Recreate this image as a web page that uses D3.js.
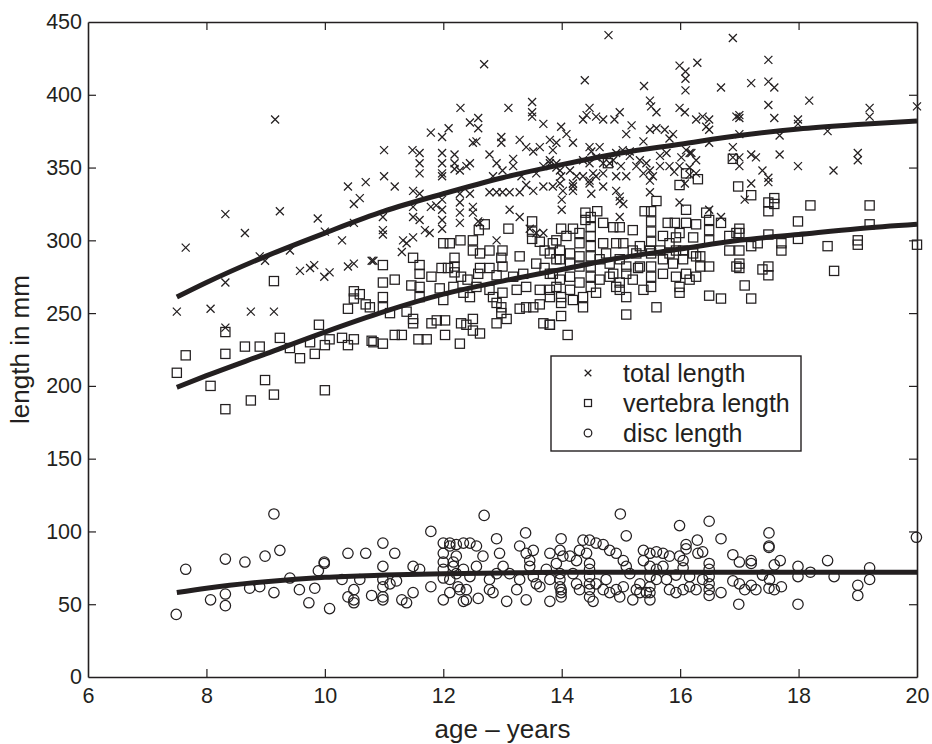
<!DOCTYPE html>
<html lang="en">
<head>
<meta charset="utf-8">
<title>length vs age</title>
<script src="https://cdn.jsdelivr.net/npm/d3@7"></script>
<style>
  body { margin: 0; background: #fff; }
  svg { display: block; font-family: "Liberation Sans", Arial, Helvetica, sans-serif; }
  .mark { fill: none; stroke: #231f20; stroke-width: 1.25; }
  .fit { fill: none; stroke: #231f20; stroke-width: 5; }
</style>
</head>
<body>
<script>
// scatter data, [age in years, length in mm]
const totalLength = [
  [7.65,295],[8.32,318],[8.65,305],[9.16,383],[9.24,320],[9.88,315],[8.9,289],[8.99,286],[9.41,293],[8.32,271],
  [10,306],[10.29,300],[10.39,337],[10.69,340],[10.59,329],[10.49,325],[10.49,312],[9.58,279],[9.75,281],[9.82,283],
  [9.99,275],[10.08,278],[10.39,282],[10.49,284],[10.79,286],[7.5,251],[8.07,253],[8.75,251],[9.14,251],[8.32,240],
  [12.69,421],[12.29,391],[13.1,391],[13.5,395],[13.5,388],[13.5,385],[13.69,380],[12.45,381],[12.59,384],[12.59,377],
  [11.79,374],[12.09,377],[11.98,371],[11.0,362],[11.0,344],[11.18,337],[11.48,362],[11.6,360],[11.6,353],[11.6,346],
  [11.49,334],[11.6,332],[11.98,360],[11.98,353],[11.98,346],[11.98,344],[12.19,359],[12.19,353],[12.19,349],[12.28,348],
  [12.39,351],[12.45,353],[12.5,367],[12.56,368],[12.78,359],[12.9,353],[12.84,344],[12.98,371],[12.98,367],[13.18,356],
  [13.29,369],[13.4,364],[13.52,361],[13.63,364],[13.8,369],[12.78,333],[12.9,333],[13.0,333],[13.12,333],[13.29,333],
  [13.4,338],[13.52,334],[13.69,337],[12.28,332],[12.28,326],[12.28,319],[12.28,312],[12.45,332],[12.5,323],[12.5,319],
  [12.62,312],[11.98,328],[11.98,321],[11.98,314],[11.98,308],[11.79,323],[11.88,324],[11.49,323],[11.49,316],[11.6,314],
  [11.69,307],[11.77,305],[10.98,316],[10.98,307],[10.98,304],[11.32,300],[11.38,298],[11.49,302],[11.3,292],[10.82,286],
  [13.12,321],[13.29,316],[13.46,308],[13.57,305],[13.69,305],[12.9,300],[12.59,313],
  [13.8,355],[13.91,350],[13.69,351],[13.57,346],[13.32,344],[13.18,351],[13.0,348],
  [14.79,441],[14.39,410],[15.99,420],[16.29,422],[16.09,416],[16.09,411],[16.09,403],[15.39,406],[16.69,405],[15.49,396],
  [15.51,392],[15.6,388],[15.99,391],[16.08,388],[14.36,383],[14.47,391],[14.42,386],[14.58,385],[14.7,383],[14.89,383],
  [14.98,388],[15.18,379],[15.09,373],[13.99,378],[14.08,373],[14.19,367],[13.91,367],[13.85,362],[14.47,364],[14.5,361],
  [14.58,357],[14.64,364],[15.49,376],[15.6,377],[15.74,376],[15.88,373],[15.82,370],[16.27,383],[16.38,385],[16.49,383],
  [16.49,376],[16.44,378],[16.95,385],[15.38,368],[15.03,362],[15.15,361],[16.1,362],[16.19,360],[16.49,367],[16.89,364],
  [16.89,357],[13.91,353],[13.97,348],[14.14,348],[14.25,344],[14.47,353],[14.53,346],[14.47,341],[14.7,346],[14.81,353],
  [14.92,344],[15.09,344],[15.26,351],[15.43,353],[15.49,348],[15.54,344],[15.66,351],[15.82,351],[15.9,347],[15.99,351],
  [16.16,350],[16.27,355],[13.97,339],[14.02,334],[14.0,328],[14.0,321],[14.19,339],[14.19,334],[14.47,339],[14.5,332],
  [14.7,337],[14.92,334],[14.98,330],[15.04,325],[14.98,327],[15.49,333],[15.49,341],[15.99,326],[16.08,339],[16.16,345],
  [16.27,346],[16.49,321],[16.69,316],[14.98,316],
  [13.8,353],[13.85,337],[13.99,344],[14.19,337],[14.36,355],[14.36,344],[14.58,344],[14.7,353],[14.87,355],[14.92,360],
  [15.0,351],[15.15,358],[15.32,355],[15.38,346],[15.66,358],[15.77,360],[16.02,357],[16.16,360],
  [16.89,439],[17.49,424],[17.2,408],[17.49,409],[17.59,405],[17.49,393],[17.59,384],[18.18,396],[17.0,386],[17.0,384],
  [17.99,383],[17.99,380],[19.2,391],[19.2,385],[20.0,392],[17.0,373],[17.68,372],[18.49,375],[17.0,357],[17.0,351],
  [17.2,359],[17.28,357],[17.68,359],[17.99,351],[19.0,360],[19.0,355],[18.59,348],[17.39,348],[17.49,343],[17.49,340],
  [17.2,339],[17.09,328]
];

const vertebraLength = [
  [9.14,272],[10.49,265],[10.59,263],[10.49,260],[10.69,256],[10.39,253],[9.9,242],[8.32,237],[9.24,233],[7.65,221],
  [8.32,222],[8.65,227],[8.9,227],[9.41,226],[9.58,219],[9.75,230],[9.83,222],[10.0,228],[10.08,232],[10.29,233],
  [10.39,228],[10.49,232],[10.79,231],[7.5,209],[8.07,200],[8.99,204],[9.14,194],[8.75,190],[8.32,184],[10.0,197],
  [12.7,311],[12.6,307],[13.1,308],[13.5,313],[13.5,306],[13.5,301],[12.0,298],[12.11,298],[12.29,300],[12.5,300],
  [12.5,293],[12.62,291],[12.78,293],[13.0,293],[12.98,288],[13.29,289],[13.63,299],[13.71,293],[13.85,298],[13.8,291],
  [13.91,287],[11.49,288],[11.6,283],[11.6,277],[11.8,275],[12.19,288],[12.19,282],[10.98,283],[11.18,273],[10.98,271],
  [11.97,281],[12.08,281],[12.19,278],[12.3,275],[12.41,273],[12.59,277],[12.62,281],[12.78,281],[12.9,276],[13.0,282],
  [13.18,275],[13.35,277],[13.57,284],[13.71,281],[13.85,277],[11.46,269],[11.6,268],[11.94,267],[12.17,268],[12.34,264],
  [12.45,261],[12.56,268],[12.78,266],[12.84,261],[13.0,264],[13.24,266],[13.4,268],[13.63,266],[13.8,261],[10.98,261],
  [10.98,254],[10.76,254],[11.1,250],[11.38,251],[11.49,246],[11.49,243],[11.8,243],[11.89,245],[12.03,245],[12.03,235],
  [12.3,243],[12.39,242],[12.5,246],[12.5,238],[12.62,236],[12.9,243],[13.07,246],[13.29,253],[13.4,254],[13.52,254],
  [13.63,256],[13.69,243],[13.8,242],[11.18,235],[11.3,235],[10.98,229],[10.82,230],[11.58,232],[11.72,232],[12.28,229],
  [12.9,257],[12.98,254],[12.98,250],[11.6,261],[12.0,259],
  [14.6,320],[14.4,319],[14.4,314],[14.49,316],[14.49,309],[14.49,303],[14.49,296],[14.49,289],[14.49,282],[14.49,275],
  [14.49,268],[14.7,312],[14.87,309],[14.98,309],[15.2,307],[13.99,308],[14.19,308],[13.91,300],[14.08,303],[14.3,305],
  [14.3,298],[15.4,320],[15.51,320],[15.51,313],[15.51,306],[15.51,299],[15.51,291],[15.51,282],[15.51,275],[15.51,268],
  [15.79,312],[15.91,312],[15.99,305],[16.1,312],[16.1,321],[16.27,311],[16.44,319],[16.49,314],[16.49,307],[16.49,300],
  [16.69,312],[16.95,305],[14.92,298],[15.04,298],[15.2,293],[15.32,296],[15.49,293],[15.66,293],[15.82,298],[15.93,293],
  [16.05,293],[16.22,291],[16.34,289],[13.97,293],[14.14,291],[14.3,289],[14.64,287],[14.81,284],[14.98,287],[15.09,282],
  [15.29,281],[15.71,287],[15.88,284],[16.05,287],[16.1,277],[16.27,289],[16.49,282],[13.8,277],[13.97,273],[14.14,275],
  [14.3,271],[14.64,273],[14.87,277],[14.98,271],[15.09,277],[15.2,273],[15.71,277],[15.93,275],[16.16,273],[16.95,282],
  [13.8,266],[13.99,261],[13.99,257],[14.19,259],[14.36,261],[14.58,264],[14.98,266],[15.09,261],[15.38,266],[15.99,268],
  [15.99,264],[16.49,262],[16.69,260],[14.36,254],[13.99,248],[15.09,249],[15.6,254],[13.8,242],[14.1,235],[14.78,353],
  [15.99,338],[16.1,346],[16.3,342],[16.89,356],[16.98,337],[15.6,327],
  [13.97,287],[14.14,284],[14.3,282],[13.91,268],[14.14,266],[14.7,298],[14.75,291],[14.81,275],[14.92,268],[15.26,291],
  [15.32,282],[15.71,303],[15.82,291],[15.93,302],[16.22,302],[16.27,275],[16.34,282],
  [17.2,331],[17.49,326],[17.49,320],[17.59,329],[17.59,325],[18.2,324],[19.2,324],[17.99,313],[19.2,311],[17.0,308],
  [17.0,305],[16.83,303],[17.49,304],[17.99,301],[17.71,298],[17.71,293],[17.2,296],[17.31,298],[17.0,293],[16.83,293],
  [18.49,296],[19.0,300],[19.0,297],[20.0,297],[17.0,284],[17.0,281],[17.39,280],[17.49,282],[17.49,276],[18.6,279],
  [17.09,269],[17.2,260]
];

const discLength = [
  [7.49,43],[7.65,74],[8.07,53],[8.32,57],[8.32,49],[8.32,81],[8.65,79],[8.73,61],[8.9,62],[8.99,83],
  [9.14,58],[9.41,68],[9.57,60],[9.73,51],[9.83,61],[9.89,73],[9.14,112],[9.24,87],[9.99,79],[9.99,78],
  [10.08,47],[10.39,85],[10.69,85],[10.98,92],[11.18,85],[11.79,100],[10.29,67],[10.59,67],[10.39,55],[10.49,60],
  [10.49,53],[10.49,51],[10.79,56],[10.98,76],[10.98,67],[10.98,62],[10.98,55],[10.98,53],[11.1,64],[11.21,66],
  [11.3,53],[11.38,51],[11.49,58],[11.49,76],[11.6,74],[11.79,62],[12.0,92],[12.0,85],[12.0,79],[12.0,74],
  [12.0,68],[12.0,53],[12.11,90],[12.17,79],[12.11,58],[12.25,62],[12.22,91],
  [12.69,111],[14.99,112],[15.09,97],[13.39,99],[12.9,95],[13.99,95],[15.99,104],[16.49,107],[17.5,99],[17.5,90],
  [17.5,89],[19.99,96],[16.69,95],[16.29,94],[18.49,80],[17.69,80],[17.99,76],[17.99,69],[18.2,72],[18.6,69],
  [19.2,75],[19.2,67],[19.0,63],[19.0,56],[17.99,50],[16.99,50],[16.89,84],[17.0,79],[17.2,80],[17.2,78],
  [16.89,66],[17.0,64],[17.09,60],[17.2,63],[17.28,60],[17.39,70],[17.5,61],[17.59,60],[17.71,62],[17.59,77],
  [17.51,67],[16.69,58],[16.49,56],[16.49,60],[16.49,64],[16.49,69],[16.49,74],[16.49,78],[16.1,91],[16.1,88],
  [16.3,85],[16.38,86],[16.05,80],[16.05,75],[15.82,60],[15.93,58],[16.05,60],[16.16,62],[16.27,60],[15.77,67],
  [15.93,70],[16.16,69],[16.38,67],[15.38,87],[15.49,85],[15.6,86],[15.71,85],[15.82,83],[15.99,83],[15.38,80],
  [15.49,76],[15.6,74],[15.71,76],[15.49,69],[15.6,67],[15.49,62],[15.49,58],[15.49,53],[15.32,64],[15.26,60],
  [15.43,58],[14.47,94],[14.58,92],[14.7,91],[14.81,87],[14.92,85],[15.04,80],[15.09,76],[15.15,71],[14.42,85],
  [14.47,78],[14.47,74],[14.47,69],[14.47,64],[14.47,60],[14.47,55],[14.53,52],[14.7,60],[14.81,58],[14.92,60],
  [14.98,55],[15.04,62],[15.2,53],[15.32,58],[14.58,64],[14.75,67],[13.97,87],[14.02,83],[13.91,78],[13.97,71],
  [13.97,67],[13.97,62],[13.99,60],[13.99,58],[13.99,55],[14.14,83],[14.25,80],[14.3,87],[14.36,94],[13.8,85],
  [13.74,74],[13.8,67],[13.8,52],[14.19,71],[14.25,64],[14.3,60],[13.29,90],[13.4,85],[13.52,87],[13.46,80],
  [13.46,76],[13.52,69],[13.57,64],[13.63,62],[13.4,53],[13.24,60],[13.29,67],[13.12,71],[13.01,76],[12.95,85],
  [12.9,71],[12.78,67],[12.78,60],[12.84,58],[13.07,52],[12.67,83],[12.56,76],[12.45,69],[12.39,60],[12.34,52],
  [12.59,54],[12.11,92],[12.34,92],[12.45,92],[12.56,90],[12.22,83],[12.17,76],[12.34,74],[12.11,67],[12.28,60],
  [12.39,53],[12.22,71]
];

// fitted growth curves at these ages
const fitAges     = [7.5, 8, 9, 10, 11, 12, 13, 14, 15, 16, 17, 18, 19, 20];
const totalFit    = [261, 271, 289, 305, 320, 332, 343, 352, 360, 366, 372, 376.5, 379.5, 382];
const vertebraFit = [199, 207, 222, 237, 251, 263, 272, 280, 288, 294, 300, 304, 308, 311];
const discFit     = [58, 61, 65.5, 68.5, 70, 71, 71.5, 72, 72, 72, 72, 72, 72, 72];

const xTicks = [6, 8, 10, 12, 14, 16, 18, 20];
const yTicks = [0, 50, 100, 150, 200, 250, 300, 350, 400, 450];
const legendLabels = ["total length", "vertebra length", "disc length"];

let w = 932, h = 744;
let margin = {top: 22, right: 15, bottom: 67, left: 88};
let iw = w - margin.left - margin.right;
let ih = h - margin.top - margin.bottom;
let ink = "#231f20";

let svg = d3.select("body").append("svg")
  .attr("width", w)
  .attr("height", h);

let g = svg.append("g")
  .attr("transform", "translate(" + margin.left + "," + margin.top + ")");

let x = d3.scaleLinear().domain([6, 20]).range([0, iw]);
let y = d3.scaleLinear().domain([0, 450]).range([ih, 0]);

// marker shapes
function cross(sel, s) {
  sel.append("path").attr("class", "mark")
    .attr("d", "M" + (-s) + "," + (-s) + "L" + s + "," + s + "M" + (-s) + "," + s + "L" + s + "," + (-s));
}
function square(sel, s) {
  sel.append("rect").attr("class", "mark")
    .attr("x", -s).attr("y", -s).attr("width", 2 * s).attr("height", 2 * s);
}
function ring(sel, s) {
  sel.append("circle").attr("class", "mark").attr("r", s);
}

// scatter
g.selectAll("g.tot").data(totalLength).enter().append("g")
  .attr("class", "tot")
  .attr("transform", d => "translate(" + x(d[0]) + "," + y(d[1]) + ")")
  .each(function() { cross(d3.select(this), 4); });

g.selectAll("g.vert").data(vertebraLength).enter().append("g")
  .attr("class", "vert")
  .attr("transform", d => "translate(" + x(d[0]) + "," + y(d[1]) + ")")
  .each(function() { square(d3.select(this), 4.6); });

g.selectAll("g.disc").data(discLength).enter().append("g")
  .attr("class", "disc")
  .attr("transform", d => "translate(" + x(d[0]) + "," + y(d[1]) + ")")
  .each(function() { ring(d3.select(this), 5.2); });

// fitted curves
let line = d3.line()
  .x((d, i) => x(fitAges[i]))
  .y(d => y(d))
  .curve(d3.curveMonotoneX);

[totalFit, vertebraFit, discFit].forEach(function(s) {
  g.append("path").attr("class", "fit").attr("d", line(s));
});

// axes, matlab style box with inward ticks
let tick = 8;
let xAxisB = d3.axisBottom(x).tickValues(xTicks).tickSizeInner(-tick).tickSizeOuter(0).tickPadding(11);
let xAxisT = d3.axisTop(x).tickValues(xTicks).tickSizeInner(-tick).tickSizeOuter(0).tickFormat("");
let yAxisL = d3.axisLeft(y).tickValues(yTicks).tickSizeInner(-tick).tickSizeOuter(0).tickPadding(6);
let yAxisR = d3.axisRight(y).tickValues(yTicks).tickSizeInner(-tick).tickSizeOuter(0).tickFormat("");

g.append("g").attr("transform", "translate(0," + ih + ")").call(xAxisB);
g.append("g").call(xAxisT);
g.append("g").call(yAxisL);
g.append("g").attr("transform", "translate(" + iw + ",0)").call(yAxisR);

g.selectAll(".domain").attr("stroke", ink).attr("stroke-width", 1.6);
g.selectAll(".tick line").attr("stroke", ink).attr("stroke-width", 1.2);
g.selectAll(".tick text")
  .attr("fill", ink)
  .style("font-size", "21.5px")
  .style("font-family", "\"Liberation Sans\", Arial, sans-serif");

// remove the end ticks that sit on the box corners
g.selectAll(".tick").filter(d => d === 6 || d === 20 || d === 0 || d === 450).select("line").remove();

// axis titles
svg.append("text")
  .attr("x", margin.left + iw / 2)
  .attr("y", 738)
  .attr("text-anchor", "middle")
  .attr("fill", ink)
  .style("font-size", "26px")
  .text("age \u2013 years");

svg.append("text")
  .attr("transform", "translate(29," + (margin.top + ih / 2) + ") rotate(-90)")
  .attr("text-anchor", "middle")
  .attr("fill", ink)
  .style("font-size", "26px")
  .text("length in mm");

// legend
let lg = svg.append("g").attr("transform", "translate(551,356)");
lg.append("rect")
  .attr("width", 250).attr("height", 95)
  .attr("fill", "#fff")
  .attr("stroke", ink)
  .attr("stroke-width", 1.4);

let shapes = [cross, square, ring];
let sizes = [3.3, 3.5, 3.8];
legendLabels.forEach(function(t, i) {
  let row = lg.append("g").attr("transform", "translate(37," + (17 + i * 30) + ")");
  shapes[i](row, sizes[i]);
  row.append("text")
    .attr("x", 35).attr("y", 9)
    .attr("fill", ink)
    .style("font-size", "25px")
    .text(t);
});
</script>
</body>
</html>
